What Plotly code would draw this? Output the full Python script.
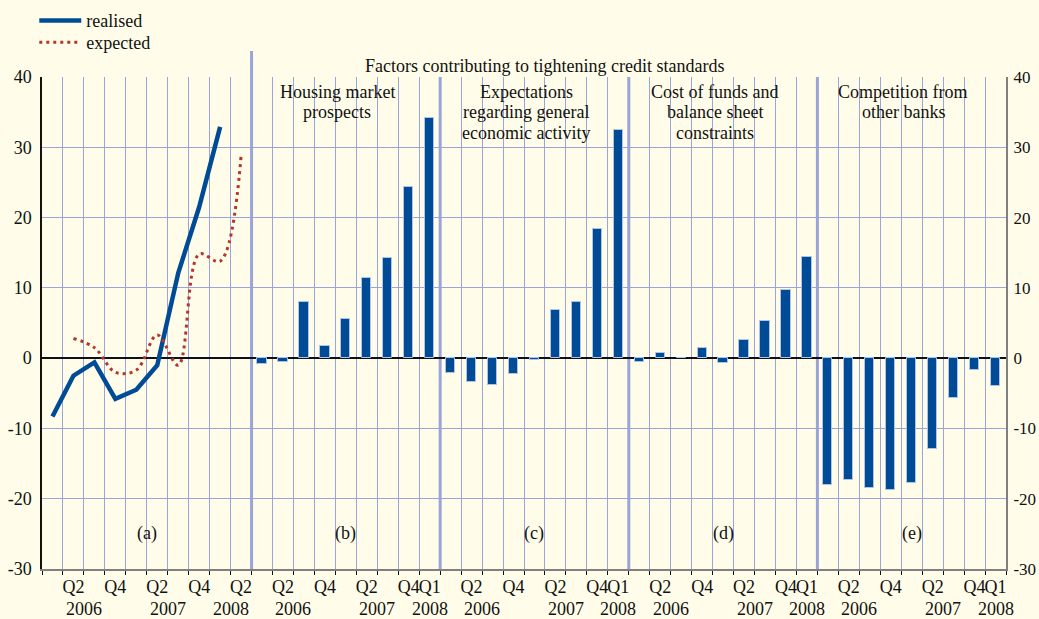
import plotly.graph_objects as go

# ---------------- data ----------------
quarters_a = ["Q1 2006", "Q2 2006", "Q3 2006", "Q4 2006", "Q1 2007",
              "Q2 2007", "Q3 2007", "Q4 2007", "Q1 2008", "Q2 2008"]
quarters_b = quarters_a[:9]

realised = [-8.3, -2.5, -0.6, -5.8, -4.5, -1.0, 12.1, 21.5, 32.9, None]
expected = [None, 2.8, 1.5, -2.0, -1.7, 3.3, -1.0, 14.8, 13.8, 28.8]

housing = [-0.8, -0.6, 8.0, 1.7, 5.6, 11.4, 14.3, 24.3, 34.1]
economy = [-2.1, -3.4, -3.8, -2.2, -0.3, 6.8, 8.0, 18.4, 32.4]
funding = [-0.5, 0.8, 0.0, 1.5, -0.7, 2.6, 5.3, 9.7, 14.4]
competition = [-18.1, -17.4, -18.5, -18.7, -17.7, -12.9, -5.6, -1.7, -4.0]

panel_titles = [["Housing market", "prospects"],
                ["Expectations", "regarding general", "economic activity"],
                ["Cost of funds and", "balance sheet", "constraints"],
                ["Competition from", "other banks"]]
panel_letters = ["(a)", "(b)", "(c)", "(d)", "(e)"]
main_title = "Factors contributing to tightening credit standards"

quarter_ticks_a = ["Q2 2006", "Q4 2006", "Q2 2007", "Q4 2007", "Q2 2008"]
quarter_ticks_b = ["Q2 2006", "Q4 2006", "Q2 2007", "Q4 2007", "Q1 2008"]

y_ticks = [-30, -20, -10, 0, 10, 20, 30, 40]
y_ticktext = [str(v) for v in y_ticks]

# ---------------- style ----------------
BG = "#FFFDE9"
GRID = "#9AA4D8"
BLUE = "#004B96"
RED = "#B5352B"
FONT = "Liberation Serif"
FS = 18
TXT = "#111"

n_a = len(quarters_a)
n_b = len(quarters_b)
offsets = [0] + [n_a + k * n_b for k in range(4)]  # panel start positions
total = n_a + 4 * n_b


def pos(panel, q):
    quarters = quarters_a if panel == 0 else quarters_b
    return offsets[panel] + quarters.index(q) + 0.5


fig = go.Figure()

# panel (a) lines
xa = [pos(0, q) for q in quarters_a]
fig.add_trace(go.Scatter(x=xa, y=realised, mode="lines", name="realised",
                         line=dict(color=BLUE, width=4.5), connectgaps=False,
                         legend="legend"))
fig.add_trace(go.Scatter(x=xa, y=expected, mode="lines", name="expected",
                         line=dict(color=RED, width=3, dash="3px,4px", shape="spline"),
                         connectgaps=False, legend="legend2"))

# panels (b)-(e) bars
for k, series in enumerate([housing, economy, funding, competition]):
    xb = [pos(k + 1, q) for q in quarters_b]
    fig.add_trace(go.Bar(x=xb, y=series, width=0.44, showlegend=False,
                         marker=dict(color=BLUE, line=dict(color="#AFC3EA", width=1))))

# ticks
tickvals, ticktext = [], []
year_ann = []
for p in range(5):
    qt = quarter_ticks_a if p == 0 else quarter_ticks_b
    for q in qt:
        tickvals.append(pos(p, q))
        ticktext.append(q.split()[0])
    if p == 0:
        years = [("2006", offsets[p] + 2), ("2007", offsets[p] + 6), ("2008", offsets[p] + 9)]
    else:
        years = [("2006", offsets[p] + 2), ("2007", offsets[p] + 6), ("2008", pos(p, "Q1 2008"))]
    for yt, yx in years:
        year_ann.append(dict(x=yx, y=0, xref="x", yref="paper", text=yt, showarrow=False,
                             yanchor="top", yshift=-28, font=dict(family=FONT, size=FS, color=TXT)))

shapes = []
# zero-line halo
shapes.append(dict(type="line", xref="paper", yref="y", x0=0, x1=1, y0=0.22, y1=0.22,
                   line=dict(color="white", width=2.2), layer="between"))
# panel separators
for k, off in enumerate(offsets[1:]):
    shapes.append(dict(type="line", xref="x", yref="paper", x0=off, x1=off,
                       y0=0, y1=1.053 if k == 0 else 1,
                       line=dict(color=GRID, width=3), layer="between"))

annotations = list(year_ann)
for p in range(5):
    cx = offsets[p] + (n_a if p == 0 else n_b) / 2
    annotations.append(dict(x=cx, y=-25, xref="x", yref="y", text=panel_letters[p],
                            showarrow=False, yanchor="middle",
                            font=dict(family=FONT, size=FS, color=TXT)))
for k, lines in enumerate(panel_titles):
    cx = offsets[k + 1] + n_b / 2 - 0.4
    for i, line in enumerate(lines):
        annotations.append(dict(x=cx, y=40, xref="x", yref="y", text=line, showarrow=False,
                                yanchor="middle", yshift=-14.5 - 20.7 * i,
                                font=dict(family=FONT, size=FS, color=TXT)))
annotations.append(dict(x=24, y=1.0224, xref="x", yref="paper", text=main_title,
                        showarrow=False, yanchor="middle",
                        font=dict(family=FONT, size=FS, color=TXT)))

legend_common = dict(xanchor="left", yanchor="top", bgcolor="rgba(0,0,0,0)",
                     font=dict(family=FONT, size=FS, color=TXT), itemwidth=42)

fig.update_layout(
    width=1039, height=619,
    margin=dict(l=42, r=33, t=77, b=50, autoexpand=False),
    paper_bgcolor=BG, plot_bgcolor=BG,
    font=dict(family=FONT, size=FS, color=TXT),
    bargap=0,
    shapes=shapes, annotations=annotations,
    legend=dict(x=-0.008, y=1.152, **legend_common),
    legend2=dict(x=-0.008, y=1.1077, **legend_common),
    xaxis=dict(range=[0, total], tickmode="array", tickvals=tickvals, ticktext=ticktext,
               tickangle=0, automargin=False,
               showgrid=False, ticks="", ticklen=0, zeroline=False,
               showline=True, linecolor="#808080", linewidth=2,
               minor=dict(tickmode="array", tickvals=list(range(0, total + 1)),
                          showgrid=True, gridcolor=GRID, gridwidth=1,
                          ticks="outside", ticklen=4, tickcolor=TXT, tickwidth=1)),
    yaxis=dict(range=[-30, 40], tickmode="array", tickvals=y_ticks, ticktext=y_ticktext,
               automargin=False, showgrid=True, gridcolor=GRID, gridwidth=1,
               zeroline=True, zerolinecolor=TXT, zerolinewidth=1.5,
               showline=True, linecolor=TXT, linewidth=1.5, ticks="", ticklabelstandoff=5),
    yaxis2=dict(range=[-30, 40], tickmode="array", tickvals=y_ticks, ticktext=y_ticktext,
                automargin=False, overlaying="y", side="right",
                tickfont=dict(family=FONT, size=17, color=TXT),
                showgrid=False, zeroline=False, showline=True, linecolor="#808080",
                linewidth=2, ticks="", ticklabelstandoff=2),
)
fig.add_trace(go.Scatter(x=[None], y=[None], yaxis="y2", showlegend=False, hoverinfo="skip"))

fig.write_html("out.html", config={"displayModeBar": False},
               post_script="document.body.style.margin='0px';")
